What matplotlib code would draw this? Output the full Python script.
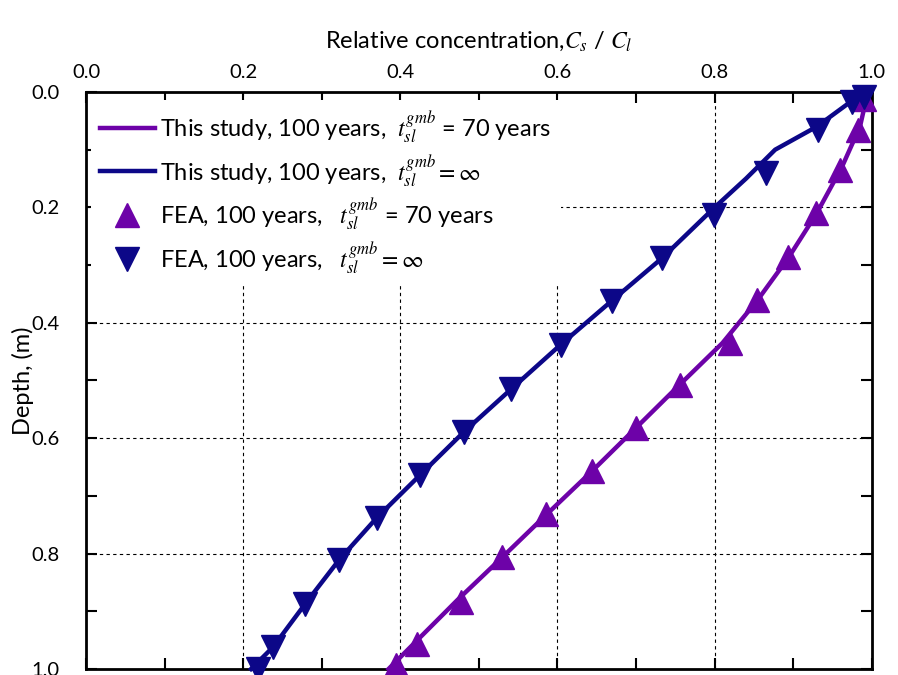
import matplotlib
matplotlib.use('Agg')
import matplotlib.pyplot as plt
from matplotlib.ticker import MultipleLocator, FormatStrFormatter

plt.rcParams['font.family'] = ['Lato', 'DejaVu Sans']
plt.rcParams['mathtext.fontset'] = 'stix'

# model curves (this study)
line70_x = [0.995, 0.985, 0.962, 0.930, 0.895, 0.855, 0.810, 0.755, 0.700,
            0.644, 0.587, 0.530, 0.473, 0.418, 0.385]
line70_d = [0.0, 0.06, 0.13, 0.21, 0.285, 0.36, 0.435, 0.508, 0.582,
            0.657, 0.731, 0.806, 0.880, 0.955, 1.0]
lineinf_x = [0.990, 0.960, 0.930, 0.877, 0.840, 0.800, 0.733, 0.669, 0.604,
             0.541, 0.481, 0.425, 0.370, 0.322, 0.279, 0.238, 0.210]
lineinf_d = [0.0, 0.03, 0.06, 0.10, 0.15, 0.20, 0.288, 0.362, 0.438,
             0.515, 0.589, 0.664, 0.738, 0.811, 0.887, 0.962, 1.0]

# FEA points
fea70_x = [0.990, 0.982, 0.960, 0.929, 0.894, 0.854, 0.820, 0.756, 0.700,
           0.644, 0.586, 0.530, 0.477, 0.421, 0.394]
fea70_d = [0.012, 0.066, 0.135, 0.210, 0.286, 0.360, 0.435, 0.508, 0.582,
           0.657, 0.731, 0.806, 0.884, 0.957, 0.993]
feainf_x = [0.990, 0.975, 0.931, 0.866, 0.799, 0.733, 0.669, 0.604, 0.541,
            0.481, 0.425, 0.370, 0.322, 0.279, 0.238, 0.219]
feainf_d = [0.008, 0.018, 0.066, 0.140, 0.213, 0.288, 0.362, 0.438, 0.515,
            0.589, 0.664, 0.738, 0.811, 0.887, 0.962, 1.0]

purple = '#6d02a8'
navy = '#0c0788'

fig = plt.figure(figsize=(8.98, 6.75), dpi=100)
ax = fig.add_axes([0.0958, 0.0089, 0.875, 0.8548])

l1, = ax.plot(line70_x, line70_d, color=purple, lw=3.2, clip_on=False, zorder=3,
              label=r'This study, 100 years, $\ t_{sl}^{gmb}$ = 70 years')
l2, = ax.plot(lineinf_x, lineinf_d, color=navy, lw=3.2, clip_on=False, zorder=3,
              label=r'This study, 100 years, $\ t_{sl}^{gmb}=\infty$')
m1, = ax.plot(fea70_x, fea70_d, '^', color=purple, ms=17, clip_on=False, zorder=4,
              label=r'FEA, 100 years,  $\ t_{sl}^{gmb}$ = 70 years')
m2, = ax.plot(feainf_x, feainf_d, 'v', color=navy, ms=17, clip_on=False, zorder=4,
              label=r'FEA, 100 years,  $\ t_{sl}^{gmb}=\infty$')

ax.set_xlim(0, 1)
ax.set_ylim(1, 0)
ax.xaxis.tick_top()
ax.xaxis.set_label_position('top')
ax.xaxis.set_major_locator(MultipleLocator(0.2))
ax.xaxis.set_minor_locator(MultipleLocator(0.1))
ax.yaxis.set_major_locator(MultipleLocator(0.2))
ax.yaxis.set_minor_locator(MultipleLocator(0.1))
ax.xaxis.set_major_formatter(FormatStrFormatter('%.1f'))
ax.yaxis.set_major_formatter(FormatStrFormatter('%.1f'))
ax.tick_params(which='both', direction='in', top=True, bottom=True,
               left=True, right=True, labelsize=14.5, width=1.5, length=8)
ax.tick_params(axis='x', pad=8)
ax.tick_params(axis='y', pad=19)
for s in ax.spines.values():
    s.set_linewidth(2)

for v in [0.2, 0.4, 0.6, 0.8]:
    ax.axvline(v, color='k', ls=(0, (3, 3)), lw=0.8, zorder=1)
    ax.axhline(v, color='k', ls=(0, (3, 3)), lw=0.8, zorder=1)

ax.set_xlabel(r'Relative concentration,$C_s$ / $C_l$', fontsize=17, labelpad=12)
ax.set_ylabel('Depth, (m)', fontsize=17, labelpad=-2)

leg = ax.legend(handles=[l1, l2, m1, m2], loc='upper left', fontsize=17,
                frameon=True, framealpha=1, edgecolor='none', fancybox=False,
                handlelength=2.3, handletextpad=0.25, borderaxespad=0.2,
                labelspacing=0.32, bbox_to_anchor=(0.0, 0.995))
leg.set_zorder(2)

fig.savefig('out.png', dpi=100)
